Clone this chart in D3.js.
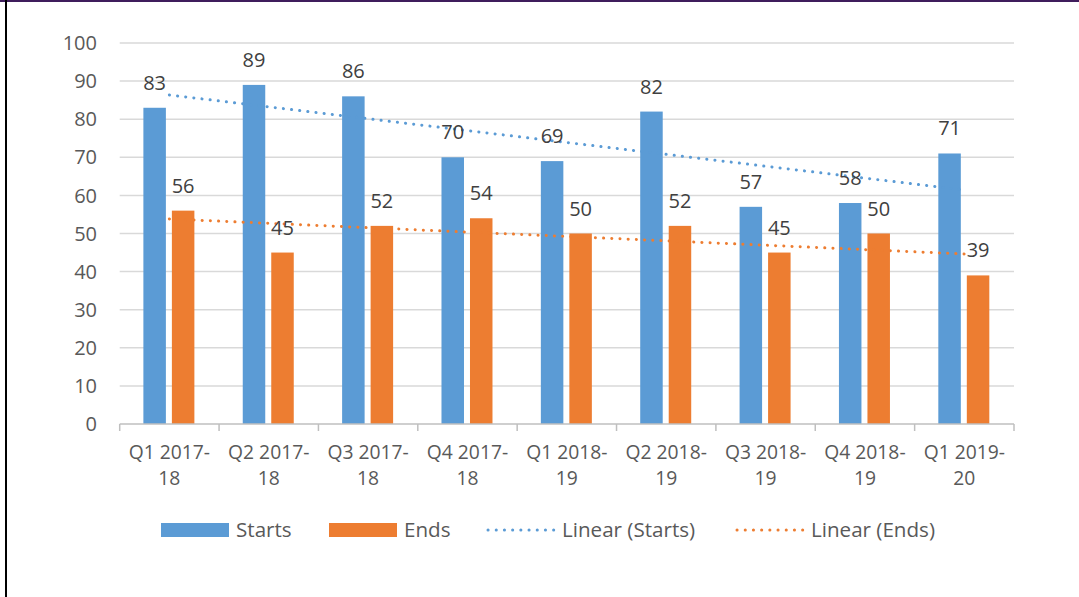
<!DOCTYPE html>
<html><head><meta charset="utf-8">
<script src="https://cdn.jsdelivr.net/npm/d3@7"></script>
<style>
html,body{margin:0;padding:0;background:#fff;}
svg{display:block;}
text{font-family:"Open Sans",sans-serif;}
</style></head>
<body>
<svg id="chart" width="1079" height="597"></svg>
<script>
const categories = ["Q1 2017-18","Q2 2017-18","Q3 2017-18","Q4 2017-18","Q1 2018-19","Q2 2018-19","Q3 2018-19","Q4 2018-19","Q1 2019-20"];
const starts = [83,89,86,70,69,82,57,58,71];
const ends = [56,45,52,54,50,52,45,50,39];
const yTicks = [0,10,20,30,40,50,60,70,80,90,100];
const seriesNames = ["Starts","Ends","Linear (Starts)","Linear (Ends)"];

(function(){
const blue = "#5b9bd5", orange = "#ed7d31";
const fs = 20;
const svg = d3.select("#chart");

// frame
svg.append("rect").attr("x",0).attr("y",0).attr("width",1079).attr("height",2).attr("fill","#3f1d5c");
svg.append("rect").attr("x",5).attr("y",0).attr("width",2).attr("height",597).attr("fill","#000");

const pL = 119.7, pR = 1014, pT = 43, pB = 424;
const x = d3.scaleBand().domain(categories).range([pL,pR]).paddingInner(0).paddingOuter(0);
const y = d3.scaleLinear().domain([0,100]).range([pB,pT]);

// gridlines
svg.append("g").selectAll("line").data(yTicks.filter(d=>d>0)).join("line")
  .attr("x1",pL).attr("x2",pR).attr("y1",d=>y(d)).attr("y2",d=>y(d))
  .attr("stroke","#d9d9d9").attr("stroke-width",1.5);

// y labels
svg.append("g").selectAll("text").data(yTicks).join("text")
  .attr("x",97).attr("y",d=>y(d)).attr("dy","0.357em").attr("text-anchor","end")
  .attr("fill","#595959").attr("font-size",fs).text(d=>d);

// bars
const bw = 22.5, gap = 6;
const g = svg.append("g");
g.selectAll("rect.s").data(starts).join("rect").attr("class","s")
  .attr("x",(d,i)=>x(categories[i])+x.bandwidth()/2-gap/2-bw-0.5)
  .attr("width",bw).attr("y",d=>y(d)).attr("height",d=>pB-y(d)).attr("fill",blue);
g.selectAll("rect.e").data(ends).join("rect").attr("class","e")
  .attr("x",(d,i)=>x(categories[i])+x.bandwidth()/2+gap/2-0.5)
  .attr("width",bw).attr("y",d=>y(d)).attr("height",d=>pB-y(d)).attr("fill",orange);

// x axis
svg.append("line").attr("x1",pL).attr("x2",pR).attr("y1",pB).attr("y2",pB)
  .attr("stroke","#bfbfbf").attr("stroke-width",1.5);
const tickPos = categories.map(c=>x(c)).concat([pR]);
svg.append("g").selectAll("line").data(tickPos).join("line")
  .attr("x1",d=>d).attr("x2",d=>d).attr("y1",pB).attr("y2",pB+7)
  .attr("stroke","#bfbfbf").attr("stroke-width",1.5);

// category labels
const cl = svg.append("g").selectAll("text").data(categories).join("text")
  .attr("text-anchor","middle").attr("fill","#595959").attr("font-size",19.3);
cl.append("tspan").attr("x",c=>x(c)+x.bandwidth()/2).attr("y",459).text(c=>c.split("-")[0]+"-");
cl.append("tspan").attr("x",c=>x(c)+x.bandwidth()/2).attr("y",485).text(c=>c.split("-")[1]);

// trend lines
function linreg(vals){
  const n = vals.length, xs = d3.range(n);
  const mx = d3.mean(xs), my = d3.mean(vals);
  const sxy = d3.sum(xs,(xi,i)=>(xi-mx)*(vals[i]-my));
  const sxx = d3.sum(xs,xi=>(xi-mx)*(xi-mx));
  const b = sxy/sxx, a = my-b*mx;
  return xs.map(xi=>[xi,a+b*xi]);
}
const cx = i => x(categories[i])+x.bandwidth()/2;
const line = d3.line().x(d=>cx(d[0])).y(d=>y(d[1]));
[[starts,blue],[ends,orange]].forEach(([vals,col])=>{
  const pts = linreg(vals);
  svg.append("path").attr("d",line([pts[0],pts[pts.length-1]]))
    .attr("fill","none").attr("stroke",col).attr("stroke-width",3)
    .attr("stroke-dasharray","0.1 8.1").attr("stroke-linecap","round");
});

// data labels
svg.append("g").selectAll("text").data(starts).join("text")
  .attr("x",(d,i)=>x(categories[i])+x.bandwidth()/2-gap/2-bw/2-0.5)
  .attr("y",d=>y(d)-18).attr("text-anchor","middle").attr("fill","#404040").attr("font-size",fs).text(d=>d);
svg.append("g").selectAll("text").data(ends).join("text")
  .attr("x",(d,i)=>x(categories[i])+x.bandwidth()/2+gap/2+bw/2-0.5)
  .attr("y",d=>y(d)-18).attr("text-anchor","middle").attr("fill","#404040").attr("font-size",fs).text(d=>d);

// legend
const leg = svg.append("g");
const legX = [161,329,487,736];
leg.append("rect").attr("x",legX[0]).attr("y",523).attr("width",68).attr("height",14).attr("fill",blue);
leg.append("rect").attr("x",legX[1]).attr("y",523).attr("width",68).attr("height",14).attr("fill",orange);
leg.append("line").attr("x1",legX[2]+1).attr("x2",legX[2]+68).attr("y1",530).attr("y2",530)
  .attr("stroke",blue).attr("stroke-width",3).attr("stroke-dasharray","0.1 8.1").attr("stroke-linecap","round");
leg.append("line").attr("x1",legX[3]+1).attr("x2",legX[3]+68).attr("y1",530).attr("y2",530)
  .attr("stroke",orange).attr("stroke-width",3).attr("stroke-dasharray","0.1 8.1").attr("stroke-linecap","round");
leg.selectAll("text").data(seriesNames).join("text")
  .attr("x",(d,i)=>legX[i]+75).attr("y",530).attr("dy","0.357em")
  .attr("fill","#595959").attr("font-size",20.6).text(d=>d);
})();
</script>
</body></html>
